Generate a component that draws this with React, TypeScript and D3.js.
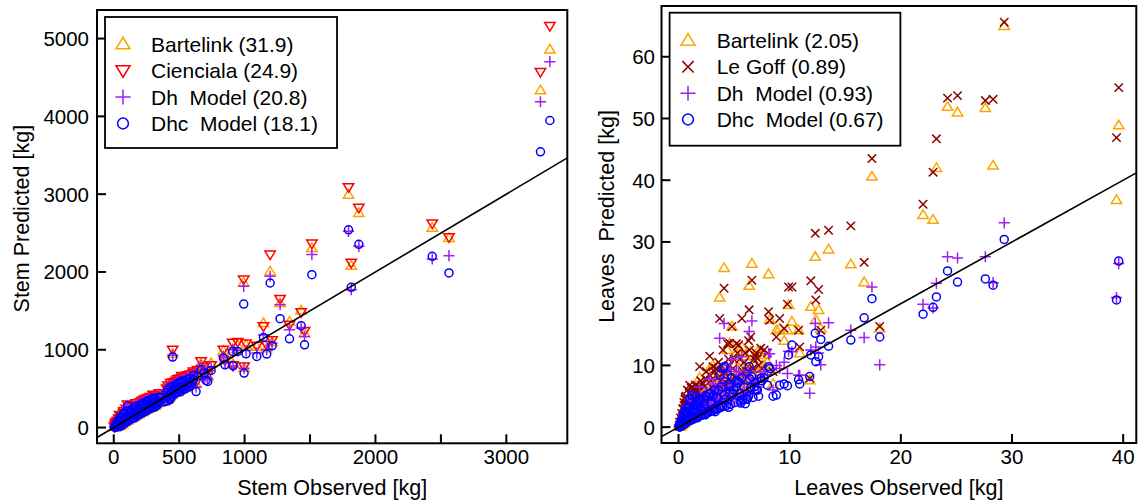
import React from 'react';
import * as d3 from 'd3';

// ---------- Stem data (kg) ----------
const stemObs = [3333,3261,1794,1873,1815,2434,2562,1514,1195,993, 1271,1432,1343,1144,1458,1210,1011,1169,1093,909, 947,838,850,996,912,450,744,667,705,718, 629,608,640,690,580,560,540,520,500,480, 460,440,420,400,385,340,320,300,285,270, 255,240,225,210,195,180,165,150,140,120, 110,106,100,90,80,75,70,65,60,55, 50,45,40,35,30,25,20,15,10,5, 350,520,470,430,30,18,130,250,300,45,
  12,22,28,38,48,58,68,78,88,95, 105,115,125,135,145,155,160,170,175,185, 190,200,205,215,220,230,235,245,250,260, 265,275,280,290,295,305,310,315,325,330, 345,355,405,410,415,425,435,445,450,455, 465,475,485,490,495,505,510,525,530,545, 550,565,570,585,590,600,610];
const stemBartelink = [4861,4337,2995,2760,2081,2570,2437,2309,2008,1866, 1601,1506,1364,1344,1215,1100,1064,1020,1040,1010, 1060,990,880,770,820,950,829,820,690,660, 560,680,720,760,620,600,580,560,520,540, 480,500,460,420,360,380,330,350,310,330, 270,300,280,240,250,230,190,210,190,170, 150,285,140,130,110,180,150,120,90,75, 62,58,52,45,40,32,28,20,14,8, 420,640,560,400,80,60,220,330,410,150,
  40,70,15,110,20,140,40,200,70,230, 90,200,110,250,130,270,140,300,160,260, 170,310,190,330,200,340,220,350,230,370, 250,300,380,260,350,290,390,280,360,300, 330,400,480,360,520,390,550,420,510,560, 450,580,470,600,500,610,480,620,510,630, 520,650,540,660,560,610,700];
const stemCienciala = [5161,4569,3089,2824,2116,2622,2445,2364,2223,1901, 1652,1480,1320,1300,1240,1120,1080,1060,1050,1090, 1100,1000,860,785,800,1000,800,850,700,680, 580,700,740,780,640,620,600,580,540,560, 500,520,480,440,380,395,345,360,320,340, 285,310,290,255,260,240,200,220,200,180, 160,295,150,135,115,190,160,125,95,80, 68,62,56,50,44,35,30,22,16,10, 440,660,580,410,85,65,230,345,420,160,
  45,75,18,115,25,150,45,210,75,240, 95,210,115,260,140,280,150,310,170,275, 180,320,200,340,210,355,230,365,240,380, 260,310,390,275,360,300,400,290,370,315, 340,410,500,375,540,405,570,435,530,580, 465,600,485,620,515,630,500,640,525,650, 540,670,560,680,580,630,720];
const stemDh = [4703,4188,2523,2330,1772,2167,2210,2223,1944,1815, 1579,1279,1257,1190,1171,1083,990,1000,960,1000, 990,920,830,764,790,930,780,800,650,630, 520,650,690,720,600,590,570,550,510,530, 470,490,450,410,350,365,320,335,300,310, 260,285,265,230,235,215,180,195,175,160, 140,280,130,120,100,175,145,110,85,70, 58,52,48,42,36,30,24,18,12,6, 400,620,540,390,75,55,210,320,390,140,
  35,65,20,100,30,130,50,190,80,220, 100,195,120,240,135,260,145,290,165,250, 175,300,195,320,205,330,225,345,235,360, 255,290,370,265,345,295,380,285,355,305, 335,395,470,365,510,395,540,425,500,550, 455,570,475,590,505,600,490,610,515,620, 530,640,550,650,570,600,690];
const stemDhc = [3947,3544,2542,2355,1802,2201,1987,1965,1858,1588, 1399,1309,1141,1158,1064,1051,948,944,914,978, 978,893,807,700,794,906,734,743,605,592, 463,614,660,700,570,560,540,520,480,500, 440,460,420,380,330,345,300,320,280,295, 245,270,250,215,220,200,170,180,165,150, 128,279,120,110,92,170,135,100,80,62, 50,44,40,34,30,24,19,14,9,4, 390,600,520,360,70,50,200,300,380,130,
  30,60,10,95,15,125,35,185,60,210, 80,185,100,230,120,250,125,275,150,240, 160,290,180,305,190,315,205,330,215,345, 235,280,355,250,330,275,365,265,340,285, 310,380,450,340,490,370,520,400,480,530, 430,550,450,570,480,580,460,590,490,600, 500,620,520,630,540,580,670];

// ---------- Leaves data (kg) ----------
const leavesObs = [29.3,39.6,39.4,24.2,25.1,27.6,28.3,23.2,22.9,22.0, 17.4,15.5,16.7,18.1,13.5,12.3,12.6,11.9,12.35,12.8, 11.8,10.2,9.9,10.8,9.8,8.1,6.6,4.1,3.7,6.35, 8.2,9.1,4.8,5.7,4.6,5.4,7.4,7.1,8.8,6.5, 2.8,1.9,3.1,10.9,7.5,8.5,6.0,5.0,4.4,4.0, 0.05,0.1,0.15,0.2,0.25,0.3,0.35,0.4,0.45,0.5, 0.55,0.6,0.7,0.8,0.9,1.0,1.1,1.2,1.3,1.4, 1.5,1.6,1.8,2.0,2.1,2.3,2.5,2.7,2.9,3.2, 3.4,3.6,3.8,4.2,4.6,5.2,5.5,5.8,6.3,6.8, 7.0,8.0,9.5,0.75,1.7,2.4,3.3,4.5,5.6,6.2,
  0.08,0.12,0.18,0.22,0.28,0.32,0.38,0.42,0.48,0.52, 0.58,0.62,0.68,0.72,0.78,0.85,0.95,1.05,1.15,1.25, 1.35,1.45,1.55,1.65,1.75,1.85,1.95,2.05,2.2,2.35, 2.45,2.6,2.75,2.85,3.0,3.15,3.25,3.45,3.55,3.7, 3.85,3.95,4.1,4.3,4.5,4.7,4.9,5.1,5.3,5.6, 5.9,6.1,6.4,6.7,6.9,7.2,7.7,1.0,1.5,2.2];
const leavesBartelink = [65.0,48.9,36.8,51.9,51.0,51.7,42.4,42.0,33.6,34.4, 40.6,26.4,23.5,16.0,28.8,27.6,19.0,19.5,17.4,16.0, 7.6,17.1,19.8,15.7,15.7,24.8,26.5,25.8,21.0,22.9, 17.4,16.0,16.3,13.0,13.6,12.8,11.7,12.2,15.7,12.2, 9.5,8.0,10.0,12.0,10.0,7.0,11.5,8.0,12.5,9.0, 0.1,0.2,0.3,0.4,0.5,0.8,1.0,1.3,1.8,2.5, 1.2,3.2,2.0,4.0,2.8,4.8,3.5,5.0,2.5,4.5, 3.0,5.5,3.8,6.0,2.8,4.5,7.0,3.5,5.5,4.2, 6.5,8.5,5.0,6.0,7.0,12.0,9.5,6.5,10.5,8.5, 9.0,10.5,14.0,1.5,2.2,3.0,3.6,4.5,5.5,7.0,
  0.5,0.1,1.0,0.2,1.4,0.4,2.0,0.6,2.6,0.7, 3.0,0.9,3.5,1.1,2.5,1.3,3.8,1.5,4.2,1.7, 3.2,2.0,4.0,2.2,4.6,2.4,3.5,2.6,5.0,2.9, 5.5,3.2,6.0,3.5,4.5,3.8,7.0,4.0,5.8,4.3, 7.5,4.6,6.2,4.9,8.0,5.2,6.8,5.6,9.0,6.0, 8.0,6.5,9.5,7.0,9.0,7.5,10.0,1.8,5.2,3.4];
const leavesLeGoff = [65.6,55.0,46.9,53.3,53.7,52.9,53.1,46.7,41.3,36.1, 43.5,32.6,26.7,16.3,31.9,31.4,22.3,23.7,20.6,15.7, 7.9,22.7,22.7,15.7,19.9,18.7,23.8,22.5,17.6,19.0, 17.3,17.6,16.3,17.6,13.6,13.3,12.8,11.1,14.6,14.6, 11.5,9.8,9.8,13.0,9.5,9.0,12.0,11.0,13.5,12.5, 0.2,0.3,0.5,0.7,0.9,1.3,1.6,2.0,2.8,3.5, 2.0,4.8,3.0,6.0,4.2,6.8,5.5,6.5,4.0,6.2, 5.0,6.0,5.8,7.5,4.5,6.5,9.0,5.2,7.5,6.0, 9.5,10.5,7.5,9.0,10.0,13.5,11.0,9.0,14.0,11.0, 12.0,12.0,16.0,2.5,3.5,4.5,5.0,6.5,7.5,9.0,
  0.8,0.2,1.5,0.4,2.2,0.6,3.0,0.9,4.0,1.1, 4.5,1.5,5.0,1.8,3.8,2.0,5.5,2.3,6.3,2.6, 4.8,3.0,5.8,3.3,6.6,3.6,5.2,4.0,7.0,4.4, 7.8,4.8,8.5,5.2,6.5,5.6,9.0,6.0,8.0,6.4, 10.0,6.8,8.8,7.2,11.0,7.6,9.5,8.0,12.0,8.5, 10.5,9.0,12.5,9.5,11.5,10.0,12.5,2.8,6.8,5.0];
const leavesDh = [33.1,26.5,21.0,27.6,27.4,27.6,23.4,23.3,19.3,19.9, 22.7,15.7,14.5,10.1,16.9,16.8,12.0,12.5,13.0,10.1, 5.5,12.2,12.3,8.4,8.7,11.9,17.2,16.8,14.4,15.5, 11.9,9.5,11.0,11.4,9.5,9.0,9.0,7.5,10.0,8.0, 7.8,6.5,7.0,8.4,8.0,6.0,8.5,6.5,9.5,8.0, 0.1,0.15,0.25,0.35,0.4,0.6,0.8,1.0,1.4,2.0, 1.0,2.8,1.6,3.5,2.3,4.5,3.0,4.8,2.0,3.8, 2.6,4.0,3.2,5.0,2.5,3.5,5.5,3.0,4.5,3.6, 5.5,7.0,4.2,5.0,6.0,9.0,7.5,5.5,9.0,7.0, 7.5,8.5,10.5,1.2,1.8,2.4,3.0,3.8,4.5,5.5,
  0.4,0.1,0.8,0.2,1.2,0.35,1.7,0.5,2.3,0.6, 2.7,0.8,3.1,1.0,2.2,1.1,3.4,1.3,3.9,1.5, 2.8,1.7,3.6,1.9,4.2,2.1,3.1,2.3,4.5,2.6, 4.8,2.8,5.2,3.1,4.0,3.4,6.0,3.6,5.0,3.8, 6.5,4.0,5.5,4.3,7.0,4.6,6.0,4.9,7.5,5.2, 7.0,5.6,8.0,6.0,7.5,6.5,8.5,1.6,4.6,3.0];
const leavesDhc = [30.4,26.9,20.6,25.3,23.5,24.0,23.0,21.1,19.4,18.3, 20.8,14.1,17.7,14.6,13.1,15.2,11.4,11.7,10.6,14.2, 8.2,13.3,11.7,7.7,6.7,9.8,8.2,9.8,8.4,9.8, 9.5,6.8,8.0,8.0,6.5,7.2,7.9,6.0,5.2,6.4, 5.5,4.5,5.0,7.0,7.5,5.0,3.8,6.0,8.5,9.5, 0.08,0.12,0.2,0.3,0.35,0.5,0.7,0.9,1.2,1.8, 0.8,2.5,1.4,3.2,2.0,4.5,2.6,5.2,1.8,3.5, 2.3,4.2,2.8,4.5,2.0,3.0,5.0,2.6,4.0,3.0, 4.8,6.0,3.5,4.5,5.5,6.5,5.5,4.5,5.0,6.5, 6.0,6.8,7.0,1.0,1.5,2.0,2.5,3.2,3.9,4.6,
  0.3,0.05,0.7,0.15,1.1,0.25,1.5,0.4,2.2,0.5, 2.6,0.6,3.0,0.8,2.0,0.9,3.3,1.1,4.0,1.2, 2.7,1.4,3.6,1.6,4.3,1.8,3.0,1.9,4.6,2.1, 5.0,2.3,5.4,2.5,3.8,2.7,6.0,2.9,4.7,3.1, 6.5,3.3,5.2,3.5,7.0,3.7,5.5,4.0,7.5,4.2, 6.5,4.5,7.8,4.8,7.2,5.0,8.0,1.3,5.0,2.6];

// ---------- Ticks & labels ----------
const stemXTicks = [0, 500, 1000, 1500, 2000, 2500, 3000];
const stemXTickLabels = [0, 500, 1000, 2000, 3000];
const stemYTicks = [0, 1000, 2000, 3000, 4000, 5000];
const leavesXTicks = [0, 10, 20, 30, 40];
const leavesYTicks = [0, 10, 20, 30, 40, 50, 60];

const stemLegend = ['Bartelink (31.9)', 'Cienciala (24.9)', 'Dh  Model (20.8)', 'Dhc  Model (18.1)'];
const leavesLegend = ['Bartelink (2.05)', 'Le Goff (0.89)', 'Dh  Model (0.93)', 'Dhc  Model (0.67)'];

const FONT = '"Liberation Sans", Arial, Helvetica, sans-serif';

type Shape = 'tri' | 'itri' | 'plus' | 'circle' | 'x';
type Series = { values: number[]; color: string; shape: Shape; label: string };

function Marker({ shape, color, x, y, k = 1 }: { shape: Shape; color: string; x: number; y: number; k?: number }) {
  const sw = 1.5;
  const common = { fill: 'none', stroke: color, strokeWidth: sw };
  if (shape === 'circle') return <circle cx={x} cy={y} r={4 * k} {...common} />;
  if (shape === 'tri') {
    const w = 5.2 * k, t = 5.0 * k, b = 3.6 * k;
    return <path d={`M${x},${y - t}L${x + w},${y + b}L${x - w},${y + b}Z`} {...common} />;
  }
  if (shape === 'itri') {
    const w = 5.2 * k, t = 5.0 * k, b = 3.6 * k;
    return <path d={`M${x},${y + t}L${x + w},${y - b}L${x - w},${y - b}Z`} {...common} />;
  }
  if (shape === 'plus') {
    const s = 5.6 * k;
    return <path d={`M${x - s},${y}H${x + s}M${x},${y - s}V${y + s}`} {...common} />;
  }
  const s = 4.2 * k;
  return <path d={`M${x - s},${y - s}L${x + s},${y + s}M${x - s},${y + s}L${x + s},${y - s}`} {...common} />;
}

function extend(ext: [number, number]): [number, number] {
  const d = (ext[1] - ext[0]) * 0.04;
  return [ext[0] - d, ext[1] + d];
}

type PanelProps = {
  id: string;
  box: { left: number; right: number; top: number; bottom: number };
  obs: number[];
  series: Series[];
  xTicks: number[];
  xTickLabels: number[];
  yTicks: number[];
  xTitle: string;
  yTitle: string;
  yTitleX: number;
  yTickLabelX: number;
  legend: { left: number; right: number; top: number; bottom: number; rows: number[]; symX: number; textX: number };
};

function Panel(p: PanelProps) {
  const { box } = p;
  const allPred = p.series.flatMap((s) => s.values);
  const x = d3.scaleLinear().domain(extend(d3.extent(p.obs) as [number, number])).range([box.left, box.right]);
  const y = d3.scaleLinear().domain(extend(d3.extent(allPred) as [number, number])).range([box.bottom, box.top]);
  const [x0, x1] = x.domain();
  const tickLen = 9;
  const cx = (box.left + box.right) / 2;
  const cy = (box.top + box.bottom) / 2;
  return (
    <g>
      <defs>
        <clipPath id={p.id}>
          <rect x={box.left} y={box.top} width={box.right - box.left} height={box.bottom - box.top} />
        </clipPath>
      </defs>
      <g clipPath={`url(#${p.id})`}>
        {p.series.map((s, si) => (
          <g key={si}>
            {p.obs.map((o, i) => (
              <Marker key={i} shape={s.shape} color={s.color} x={x(o)} y={y(s.values[i])} />
            ))}
          </g>
        ))}
        <line x1={x(x0)} y1={y(x0)} x2={x(x1)} y2={y(x1)} stroke="#000" strokeWidth={1.6} />
      </g>
      <rect x={box.left} y={box.top} width={box.right - box.left} height={box.bottom - box.top} fill="none" stroke="#000" strokeWidth={2} />
      {p.xTicks.map((t) => (
        <line key={t} x1={x(t)} x2={x(t)} y1={box.bottom} y2={box.bottom - tickLen} stroke="#000" strokeWidth={2} />
      ))}
      {p.yTicks.map((t) => (
        <line key={t} x1={box.left} x2={box.left + tickLen} y1={y(t)} y2={y(t)} stroke="#000" strokeWidth={2} />
      ))}
      {p.xTickLabels.map((t) => (
        <text key={t} x={x(t)} y={464} textAnchor="middle" fontSize={20.5} fontFamily={FONT}>{t}</text>
      ))}
      {p.yTicks.map((t) => (
        <text key={t} x={p.yTickLabelX} y={y(t)} dy="0.36em" textAnchor="end" fontSize={20.5} fontFamily={FONT}>{t}</text>
      ))}
      <text x={cx} y={495} textAnchor="middle" fontSize={21.5} fontFamily={FONT} style={{ whiteSpace: 'pre' }}>{p.xTitle}</text>
      <text transform={`translate(${p.yTitleX},${cy - 8}) rotate(-90)`} textAnchor="middle" fontSize={21.5} fontFamily={FONT} style={{ whiteSpace: 'pre' }}>{p.yTitle}</text>
      <rect x={p.legend.left} y={p.legend.top} width={p.legend.right - p.legend.left} height={p.legend.bottom - p.legend.top} fill="#fff" stroke="#000" strokeWidth={1.8} />
      {p.series.map((s, i) => (
        <g key={i}>
          <Marker shape={s.shape} color={s.color} x={p.legend.symX} y={p.legend.rows[i]} k={1.35} />
          <text x={p.legend.textX} y={p.legend.rows[i]} dy="0.36em" fontSize={21} fontFamily={FONT} style={{ whiteSpace: 'pre' }}>{s.label}</text>
        </g>
      ))}
    </g>
  );
}

export default function App() {
  const stemSeries: Series[] = [
    { values: stemBartelink, color: '#FFA500', shape: 'tri', label: stemLegend[0] },
    { values: stemCienciala, color: '#FF0000', shape: 'itri', label: stemLegend[1] },
    { values: stemDh, color: '#A020F0', shape: 'plus', label: stemLegend[2] },
    { values: stemDhc, color: '#0000FF', shape: 'circle', label: stemLegend[3] },
  ];
  const leavesSeries: Series[] = [
    { values: leavesBartelink, color: '#FFA500', shape: 'tri', label: leavesLegend[0] },
    { values: leavesLeGoff, color: '#8B0000', shape: 'x', label: leavesLegend[1] },
    { values: leavesDh, color: '#A020F0', shape: 'plus', label: leavesLegend[2] },
    { values: leavesDhc, color: '#0000FF', shape: 'circle', label: leavesLegend[3] },
  ];
  return (
    <svg width={1138} height={503} style={{ position: 'absolute', left: 0, top: 0, background: '#fff' }}>
      <rect x={0} y={0} width={1138} height={503} fill="#fff" />
      <Panel
        id="clipStem"
        box={{ left: 97, right: 567.3, top: 10, bottom: 443.3 }}
        obs={stemObs}
        series={stemSeries}
        xTicks={stemXTicks}
        xTickLabels={stemXTickLabels}
        yTicks={stemYTicks}
        xTitle="Stem Observed [kg]"
        yTitle="Stem Predicted [kg]"
        yTitleX={29}
        yTickLabelX={89}
        legend={{ left: 105, right: 337, top: 17, bottom: 148, rows: [44, 70.5, 97, 123.5], symX: 123, textX: 151 }}
      />
      <Panel
        id="clipLeaves"
        box={{ left: 661.5, right: 1136.3, top: 6, bottom: 443 }}
        obs={leavesObs}
        series={leavesSeries}
        xTicks={leavesXTicks}
        xTickLabels={leavesXTicks}
        yTicks={leavesYTicks}
        xTitle="Leaves Observed [kg]"
        yTitle="Leaves  Predicted [kg]"
        yTitleX={614}
        yTickLabelX={655}
        legend={{ left: 669.6, right: 900.4, top: 12.7, bottom: 145.7, rows: [40.5, 66.8, 93.2, 119.5], symX: 688, textX: 716.7 }}
      />
    </svg>
  );
}
